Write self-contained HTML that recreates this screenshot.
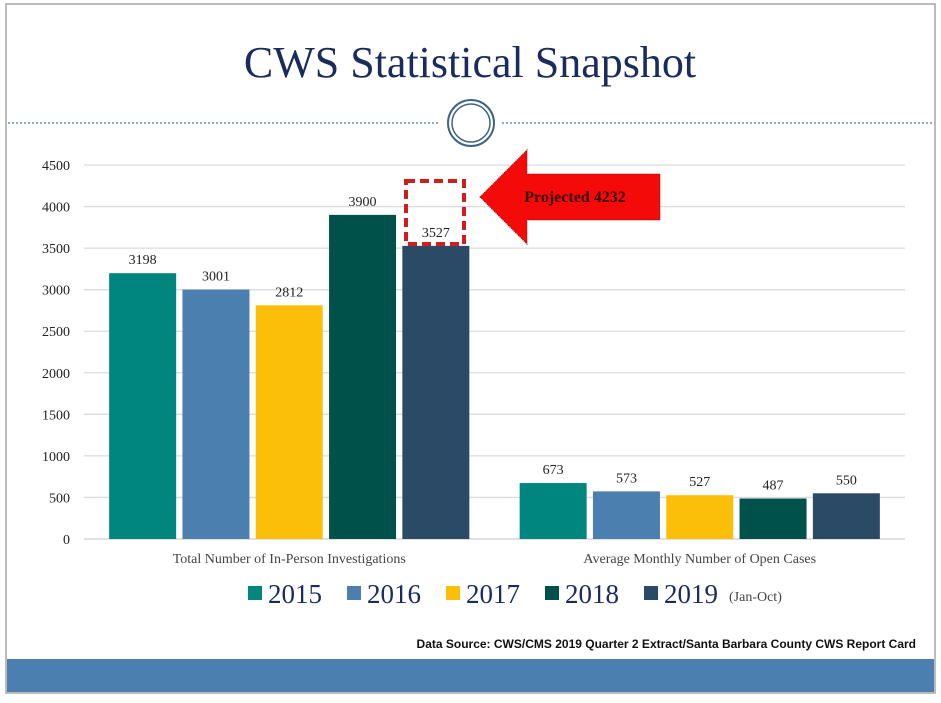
<!DOCTYPE html>
<html><head><meta charset="utf-8"><style>
html,body{margin:0;padding:0;background:#fff;}
body{width:941px;height:698px;overflow:hidden;position:relative;font-family:"Liberation Serif",serif;}
</style></head><body>
<svg id="chart" width="941" height="698" xmlns="http://www.w3.org/2000/svg">
  <rect x="6" y="4" width="929" height="689" fill="#fff" stroke="#a6a6a6" stroke-width="1.5"/>
  <text x="470" y="77" text-anchor="middle" font-size="44" fill="#1a2b5e" font-family="Liberation Serif, serif">CWS Statistical Snapshot</text>
  <line x1="8" y1="123" x2="440" y2="123" stroke="#6a8fb3" stroke-width="1.5" stroke-dasharray="2,2"/>
  <line x1="502" y1="123" x2="933" y2="123" stroke="#6a8fb3" stroke-width="1.5" stroke-dasharray="2,2"/>
  <circle cx="471" cy="123" r="23" fill="none" stroke="#3f6584" stroke-width="2"/>
  <circle cx="471" cy="123" r="19" fill="none" stroke="#3f6584" stroke-width="1.5"/>
  <g id="grid"></g>
  <g id="bars"></g>
  <g id="labels"></g>
  <rect x="406" y="181" width="58" height="63" fill="none" stroke="#d01e1e" stroke-width="4" stroke-dasharray="9,5"/>
  <polygon points="480,197 527,150 527,174 660,174 660,220 527,220 527,244" fill="#f50a0a" stroke="#8a1010" stroke-width="1" stroke-dasharray="1,1"/>
  <text x="575" y="202" text-anchor="middle" font-size="16" font-weight="bold" fill="#3a0000">Projected 4232</text>
  <g id="legend"></g>
  <text x="916" y="648" text-anchor="end" font-size="12" font-weight="bold" fill="#111" font-family="Liberation Sans Narrow, Liberation Sans, sans-serif">Data Source: CWS/CMS 2019 Quarter 2 Extract/Santa Barbara County CWS Report Card</text>
  <rect x="7" y="659" width="927" height="33" fill="#4a7fb0"/>
</svg>
<script>
const categories = ["Total Number of In-Person Investigations", "Average Monthly Number of Open Cases"];
const seriesNames = ["2015", "2016", "2017", "2018", "2019"];
const s2015 = [3198, 673];
const s2016 = [3001, 573];
const s2017 = [2812, 527];
const s2018 = [3900, 487];
const s2019 = [3527, 550];
const yTicks = [0, 500, 1000, 1500, 2000, 2500, 3000, 3500, 4000, 4500];
const colors = ["#00857f", "#4a7fb0", "#fbbf0a", "#00514a", "#2b4a66"];
const series = [s2015, s2016, s2017, s2018, s2019];

const NS = "http://www.w3.org/2000/svg";
const plotL = 84, plotR = 905, y0 = 539, yTop = 165, yMax = 4500;
const y = v => y0 - (v / yMax) * (y0 - yTop);
const groupW = (plotR - plotL) / categories.length;
const barW = 67, pitch = 73.3;
const xBar = (c, s) => plotL + groupW * c + groupW / 2 - (pitch * series.length) / 2 + s * pitch + (pitch - barW) / 2;
function mk(tag, attrs, parent) { const e = document.createElementNS(NS, tag); for (const k in attrs) e.setAttribute(k, attrs[k]); parent.appendChild(e); return e; }

const grid = document.getElementById("grid");
yTicks.forEach(t => {
  const l = mk("line", {x1: plotL, x2: plotR, y1: y(t), y2: y(t), stroke: t === 0 ? "#cfcfcf" : "#dcdcdc", "stroke-width": 1.3}, grid);
  
  
  const tx = mk("text", {x: 70, y: y(t) + 5, "text-anchor": "end", "font-size": 14, fill: "#222"}, grid);
  tx.textContent = t;
  
  
});

const bars = document.getElementById("bars"), labels = document.getElementById("labels");
categories.forEach((cat, c) => {
  series.forEach((arr, s) => {
    const v = arr[c], bx = xBar(c, s);
    const r = mk("rect", {x: bx, y: y(v), width: barW, height: y0 - y(v), fill: colors[s]}, bars);
    
    
    const t = mk("text", {x: bx + barW / 2, y: y(v) - 9, "text-anchor": "middle", "font-size": 14, fill: "#222"}, labels);
    t.textContent = v;
    
    
  });
  const ct = mk("text", {x: plotL + groupW * c + groupW / 2, y: 563, "text-anchor": "middle", "font-size": 14, fill: "#444"}, labels);
  ct.textContent = cat;
  
  
});

const legend = document.getElementById("legend");
const legX = [248, 347, 446, 545, 644];
seriesNames.forEach((n, i) => {
  const g = mk("g", {}, legend);
  
  
  mk("rect", {x: legX[i], y: 586, width: 14, height: 14, fill: colors[i]}, g);
  const t = mk("text", {x: legX[i] + 20, y: 603, "font-size": 27, fill: "#1a2b5e"}, g);
  t.textContent = n;
});
const jo = mk("text", {x: 729, y: 601, "font-size": 14, fill: "#444"}, legend);
jo.textContent = "(Jan-Oct)";


</script>
</body></html>
